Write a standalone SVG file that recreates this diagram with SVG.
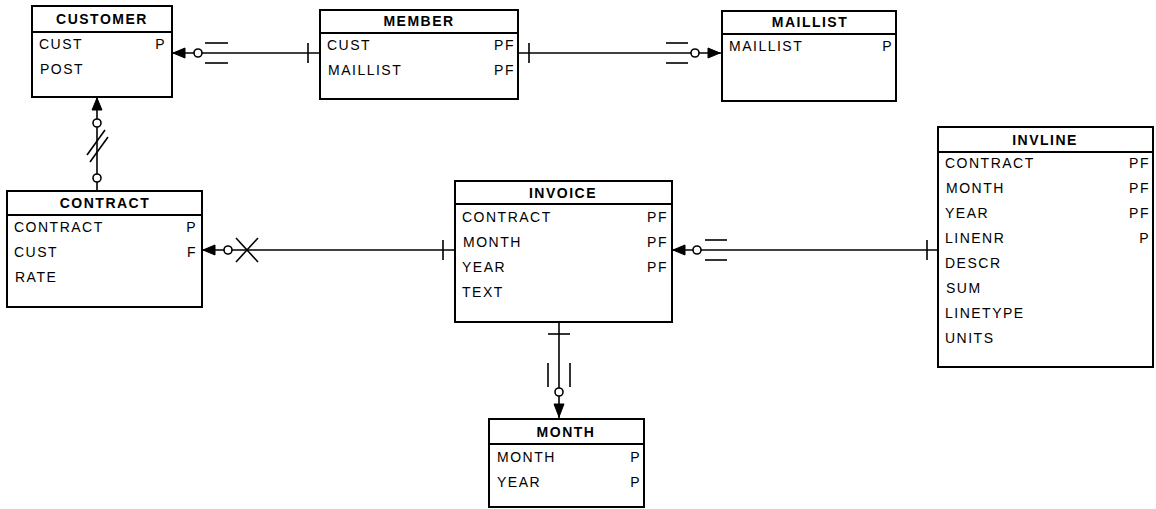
<svg xmlns="http://www.w3.org/2000/svg" width="1156" height="509" viewBox="0 0 1156 509">
  <style>
    .box { fill: #fff; stroke: #000; stroke-width: 2; }
    .sep { stroke: #000; stroke-width: 2; }
    .title { font-family: "Liberation Sans", Arial, sans-serif; font-size: 14px; font-weight: bold; letter-spacing: 1.5px; text-anchor: middle; fill: #000; }
    .field { font-family: "Liberation Sans", Arial, sans-serif; font-size: 14px; letter-spacing: 1.5px; fill: #000; }
    .flag { font-family: "Liberation Sans", Arial, sans-serif; font-size: 14px; letter-spacing: 1.5px; text-anchor: end; fill: #000; }
    .ln { stroke: #000; stroke-width: 1.6; fill: none; }
    .ring { stroke: #000; stroke-width: 1.6; fill: #fff; }
    .head { fill: #000; stroke: #000; stroke-width: 1; }
  </style>

  <!-- relationships -->
  <g id="connectors">
    <!-- CUSTOMER - MEMBER -->
    <line class="ln" x1="172" y1="53" x2="320" y2="53"/>
    <polygon class="head" points="173,53 185,48 185,58"/>
    <circle class="ring" cx="198" cy="53" r="4"/>
    <line class="ln" x1="205" y1="43" x2="228" y2="43"/>
    <line class="ln" x1="205" y1="63" x2="228" y2="63"/>
    <line class="ln" x1="308" y1="43" x2="308" y2="63"/>

    <!-- MEMBER - MAILLIST -->
    <line class="ln" x1="518" y1="53" x2="722" y2="53"/>
    <line class="ln" x1="529" y1="43" x2="529" y2="63"/>
    <line class="ln" x1="666" y1="43" x2="688" y2="43"/>
    <line class="ln" x1="666" y1="63" x2="688" y2="63"/>
    <circle class="ring" cx="695" cy="53" r="4"/>
    <polygon class="head" points="720,53 708,48 708,58"/>

    <!-- CUSTOMER - CONTRACT -->
    <line class="ln" x1="97" y1="97" x2="97" y2="191"/>
    <polygon class="head" points="97,98 92,110 102,110"/>
    <circle class="ring" cx="97" cy="123" r="4"/>
    <line class="ln" x1="87" y1="155" x2="105" y2="130"/>
    <line class="ln" x1="90" y1="162" x2="108" y2="137"/>
    <circle class="ring" cx="97" cy="178" r="4"/>

    <!-- CONTRACT - INVOICE -->
    <line class="ln" x1="202" y1="250" x2="455" y2="250"/>
    <polygon class="head" points="203,250 215,245 215,255"/>
    <circle class="ring" cx="228" cy="250" r="4"/>
    <line class="ln" x1="236" y1="238" x2="258" y2="262"/>
    <line class="ln" x1="236" y1="262" x2="258" y2="238"/>
    <line class="ln" x1="443" y1="240" x2="443" y2="260"/>

    <!-- INVOICE - INVLINE -->
    <line class="ln" x1="672" y1="250" x2="938" y2="250"/>
    <polygon class="head" points="673,250 685,245 685,255"/>
    <circle class="ring" cx="697" cy="250" r="4"/>
    <line class="ln" x1="705" y1="240" x2="727" y2="240"/>
    <line class="ln" x1="705" y1="260" x2="727" y2="260"/>
    <line class="ln" x1="927" y1="240" x2="927" y2="260"/>

    <!-- INVOICE - MONTH -->
    <line class="ln" x1="559" y1="322" x2="559" y2="419"/>
    <line class="ln" x1="548" y1="334" x2="570" y2="334"/>
    <line class="ln" x1="548" y1="363" x2="548" y2="387"/>
    <line class="ln" x1="570" y1="363" x2="570" y2="387"/>
    <circle class="ring" cx="559" cy="392" r="4"/>
    <polygon class="head" points="559,417 554,404 564,404"/>
  </g>

  <!-- entities -->
  <g id="customer">
    <rect class="box" x="32" y="6" width="140" height="91"/>
    <line class="sep" x1="32" y1="32" x2="172" y2="32"/>
    <text class="title" x="102" y="24">CUSTOMER</text>
    <text class="field" x="39" y="49">CUST</text>
    <text class="flag" x="166" y="49">P</text>
    <text class="field" x="40" y="74">POST</text>
  </g>

  <g id="member">
    <rect class="box" x="320" y="10" width="198" height="89"/>
    <line class="sep" x1="320" y1="33" x2="518" y2="33"/>
    <text class="title" x="419" y="26">MEMBER</text>
    <text class="field" x="327" y="50">CUST</text>
    <text class="flag" x="515" y="50">PF</text>
    <text class="field" x="328" y="75">MAILLIST</text>
    <text class="flag" x="515" y="75">PF</text>
  </g>

  <g id="maillist">
    <rect class="box" x="722" y="11" width="174" height="90"/>
    <line class="sep" x1="722" y1="34" x2="896" y2="34"/>
    <text class="title" x="810" y="27">MAILLIST</text>
    <text class="field" x="729" y="51">MAILLIST</text>
    <text class="flag" x="893" y="51">P</text>
  </g>

  <g id="contract">
    <rect class="box" x="7" y="191" width="195" height="116"/>
    <line class="sep" x1="7" y1="215" x2="202" y2="215"/>
    <text class="title" x="105" y="208">CONTRACT</text>
    <text class="field" x="14" y="232">CONTRACT</text>
    <text class="flag" x="197" y="232">P</text>
    <text class="field" x="14" y="257">CUST</text>
    <text class="flag" x="197" y="257">F</text>
    <text class="field" x="15" y="282">RATE</text>
  </g>

  <g id="invoice">
    <rect class="box" x="455" y="181" width="217" height="141"/>
    <line class="sep" x1="455" y1="204" x2="672" y2="204"/>
    <text class="title" x="563" y="198">INVOICE</text>
    <text class="field" x="462" y="222">CONTRACT</text>
    <text class="flag" x="668" y="222">PF</text>
    <text class="field" x="463" y="247">MONTH</text>
    <text class="flag" x="668" y="247">PF</text>
    <text class="field" x="462" y="272">YEAR</text>
    <text class="flag" x="668" y="272">PF</text>
    <text class="field" x="462" y="297">TEXT</text>
  </g>

  <g id="invline">
    <rect class="box" x="938" y="127" width="215" height="240"/>
    <line class="sep" x1="938" y1="152" x2="1153" y2="152"/>
    <text class="title" x="1045" y="145">INVLINE</text>
    <text class="field" x="945" y="168">CONTRACT</text>
    <text class="flag" x="1150" y="168">PF</text>
    <text class="field" x="946" y="193">MONTH</text>
    <text class="flag" x="1150" y="193">PF</text>
    <text class="field" x="945" y="218">YEAR</text>
    <text class="flag" x="1150" y="218">PF</text>
    <text class="field" x="945" y="243">LINENR</text>
    <text class="flag" x="1150" y="243">P</text>
    <text class="field" x="945" y="268">DESCR</text>
    <text class="field" x="946" y="293">SUM</text>
    <text class="field" x="945" y="318">LINETYPE</text>
    <text class="field" x="945" y="343">UNITS</text>
  </g>

  <g id="month">
    <rect class="box" x="489" y="419" width="155" height="88"/>
    <line class="sep" x1="489" y1="444" x2="644" y2="444"/>
    <text class="title" x="566" y="437">MONTH</text>
    <text class="field" x="497" y="462">MONTH</text>
    <text class="flag" x="641" y="462">P</text>
    <text class="field" x="497" y="487">YEAR</text>
    <text class="flag" x="641" y="487">P</text>
  </g>
</svg>
